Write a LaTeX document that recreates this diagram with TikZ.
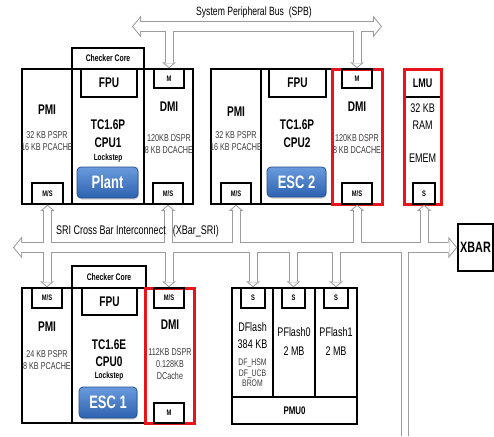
\documentclass[tikz,border=0pt]{standalone}
\usepackage{fontspec}
\setmainfont{Liberation Sans}[FakeStretch=0.72]
\usepackage{tikz}
\usetikzlibrary{arrows.meta,shadows}
\definecolor{pipe}{HTML}{9C9C9C}
\definecolor{hired}{HTML}{E8141B}
\definecolor{btntop}{HTML}{6A9BDD}
\definecolor{btnbot}{HTML}{2D62B0}
\definecolor{btnedge}{HTML}{24508F}
\definecolor{memtxt}{HTML}{3A3A3A}

\begin{document}
\begin{tikzpicture}[
    x=1pt, y=-1pt,
    every node/.style={font=\fontsize{10}{12}\selectfont, inner sep=0pt, align=center},
    blk/.style={draw, line width=1.5pt},
    redblk/.style={draw=hired, line width=3pt},
    port/.style={blk, font=\bfseries\fontsize{8}{9}\selectfont},
    head/.style={font=\bfseries\fontsize{14}{16}\selectfont},
    mem/.style={text=memtxt, font=\fontsize{10}{12}\selectfont},
    big/.style={font=\fontsize{12.5}{17}\selectfont},
    btn/.style={draw=btnedge, line width=0.8pt, rounded corners=4pt,
      top color=btntop, bottom color=btnbot, text=white,
      font=\bfseries\fontsize{18}{18}\selectfont,
      drop shadow={opacity=0.35, shadow xshift=0.8pt, shadow yshift=-1.5pt}},
    bus/.style={draw=\pcol, line width=\busw,
      {Triangle[length=\busl, width=\bust, line width=0pt]}-{Triangle[length=\busl, width=\bust, line width=0pt]},
      shorten <=\shr, shorten >=\shr},
    branch/.style={draw=\pcol, line width=\brw,
      -{Triangle[length=\brl, width=\brt, line width=0pt]}, shorten >=\shr},
    drop/.style={draw=\pcol, line width=\dropw}
  ]
    \useasboundingbox (0,0) rectangle (494,436);

    % CPU1 (top left)
    \node[blk, minimum width=72, minimum height=21, font=\bfseries\fontsize{9.5}{10}\selectfont] (chk1) at (108,58.5) {Checker Core};
    \node[blk, minimum width=50, minimum height=135] (pmi1) at (47,136.5) {};
    \node[blk, minimum width=72, minimum height=135] (core1) at (108,136.5) {};
    \node[blk, minimum width=49, minimum height=135] (dmi1) at (168.5,136.5) {};
    \node[blk, head, minimum width=56, minimum height=28] (fpu1) at (109,83) {FPU};
    \node[port, minimum width=30, minimum height=19] (m1) at (169,78.5) {M};
    \node[port, minimum width=31, minimum height=21] (msp1) at (47.5,193.5) {M/S};
    \node[port, minimum width=30, minimum height=21] (msd1) at (168,193.5) {M/S};
    \node[head] (pmi1t) at (47,110) {PMI};
    \node[mem] (pmi1m) at (47,141) {32 KB PSPR\\16 KB PCACHE};
    \node[head] (tc1) at (108,125) {TC1.6P};
    \node[head] (cpu1t) at (108,143) {CPU1};
    \node[font=\bfseries\fontsize{9}{10}\selectfont] (lock1) at (108,158) {Lockstep};
    \node[head] (dmi1t) at (169,107) {DMI};
    \node[mem] (dmi1m) at (169,144) {120KB DSPR\\8 KB DCACHE};
    \node[btn, minimum width=61, minimum height=31] (plant) at (107.5,182.5) {Plant};

    % CPU2 (top middle)
    \node[blk, minimum width=50, minimum height=135] (pmi2) at (236,136.5) {};
    \node[blk, minimum width=71, minimum height=135] (core2) at (296.5,136.5) {};
    \node[blk, head, minimum width=57, minimum height=28] (fpu2) at (297.5,83) {FPU};
    \node[port, minimum width=30, minimum height=21] (msp2) at (236,193.5) {M/S};
    \node[head] (pmi2t) at (236,112) {PMI};
    \node[mem] (pmi2m) at (236,141) {32 KB PSPR\\16 KB PCACHE};
    \node[head] (tc2) at (297,125) {TC1.6P};
    \node[head] (cpu2t) at (297,143) {CPU2};
    \node[redblk, minimum width=50, minimum height=135] (dmi2) at (357,136.5) {};
    \node[port, minimum width=30, minimum height=19] (m2) at (357,78.5) {M};
    \node[port, minimum width=30, minimum height=21] (msd2) at (357,193.5) {M/S};
    \node[head] (dmi2t) at (357,107) {DMI};
    \node[mem] (dmi2m) at (357,144) {120KB DSPR\\8 KB DCACHE};
    \node[btn, minimum width=59, minimum height=30] (esc2) at (296.5,182) {ESC 2};

    % LMU
    \node[blk, minimum width=37, minimum height=28, font=\bfseries\fontsize{12.5}{14}\selectfont] (lmuhd) at (422.5,83) {LMU};
    \node[redblk, minimum width=37, minimum height=135] (lmu) at (422.5,136.5) {};
    \node[port, minimum width=22, minimum height=21] (lmus) at (424,193.5) {S};
    \node[big] (ramt) at (422.5,116.5) {32 KB\\RAM};
    \node[big] (ememt) at (422.5,158) {EMEM};

    % CPU0 (bottom left)
    \node[blk, minimum width=74, minimum height=22, font=\bfseries\fontsize{9.5}{10}\selectfont] (chk0) at (109,277) {Checker Core};
    \node[blk, minimum width=50, minimum height=135] (pmi0) at (47,355.5) {};
    \node[blk, minimum width=73, minimum height=135] (core0) at (108.5,355.5) {};
    \node[blk, head, minimum width=55, minimum height=27] (fpu0) at (109.5,301.5) {FPU};
    \node[port, minimum width=30, minimum height=20] (msp0) at (47,298) {M/S};
    \node[head] (pmi0t) at (47,327) {PMI};
    \node[mem] (pmi0m) at (47,360) {24 KB PSPR\\8 KB PCACHE};
    \node[head] (tc0) at (109,345) {TC1.6E};
    \node[head] (cpu0t) at (109,362) {CPU0};
    \node[font=\bfseries\fontsize{9}{10}\selectfont] (lock0) at (109,376) {Lockstep};
    \node[redblk, minimum width=49, minimum height=135] (dmi0) at (169.5,355.5) {};
    \node[port, minimum width=30, minimum height=20] (msd0) at (169,298) {M/S};
    \node[port, minimum width=30, minimum height=20] (m0) at (169,413) {M};
    \node[head] (dmi0t) at (170,325) {DMI};
    \node[mem] (dmi0m) at (170,364) {112KB DSPR\\0.128KB\\DCache};
    \node[btn, minimum width=58, minimum height=31] (esc1) at (108,402.5) {ESC 1};

    % flash and PMU0
    \node[blk, minimum width=41, minimum height=109] (dfl) at (252.5,342.5) {};
    \node[blk, minimum width=42, minimum height=109] (pf0) at (294,342.5) {};
    \node[blk, minimum width=42, minimum height=109] (pf1) at (336,342.5) {};
    \node[blk, minimum width=125, minimum height=27, font=\bfseries\fontsize{11}{12}\selectfont] (pmu) at (294.5,410.5) {PMU0};
    \node[port, minimum width=24, minimum height=20] (sdf) at (253,298) {S};
    \node[port, minimum width=23, minimum height=20] (spf0) at (293.5,298) {S};
    \node[port, minimum width=24, minimum height=20] (spf1) at (336,298) {S};
    \node[big] (dflt) at (252.5,335.5) {DFlash\\384 KB};
    \node[mem, font=\fontsize{9.5}{10.5}\selectfont] (dfxt) at (252.5,373) {DF\_HSM\\DF\_UCB\\BROM};
    \node[big, font=\fontsize{12.5}{19}\selectfont] (pf0t) at (294,341.5) {PFlash0\\2 MB};
    \node[big, font=\fontsize{12.5}{19}\selectfont] (pf1t) at (336,341.5) {PFlash1\\2 MB};

    \node[blk, minimum width=35, minimum height=47, font=\bfseries\fontsize{15}{16}\selectfont] (xbar) at (475.5,247.5) {XBAR};

    % buses
    \coordinate (spbL) at (132,26.5);
    \coordinate (spbR) at (382,26.5);
    \coordinate (sriL) at (13,247.5);
    \coordinate (sriD) at (405,436);
    \foreach \pcol/\busw/\brw/\dropw/\busl/\bust/\brl/\brt/\shr in
      {pipe/11pt/9pt/8pt/9pt/22pt/6pt/14pt/0pt,
       white/9pt/7pt/6pt/6.7pt/16.4pt/3.7pt/8.6pt/1.3pt}
    {
      \draw[bus] (spbL) -- (spbR);
      \draw[bus] (sriL) -- (xbar.west);
      \draw[branch] (m1.north |- spbL) -- (m1.north);
      \draw[branch] (m2.north |- spbL) -- (m2.north);
      \foreach \n in {msp1,msd1,msp2,msd2,lmus}
        \draw[branch] (\n.south |- sriL) -- (\n.south);
      \foreach \n in {msp0,msd0,sdf,spf0,spf1}
        \draw[branch] (\n.north |- sriL) -- (\n.north);
      \draw[drop] (sriD |- sriL) -- (sriD);
    }
    \node[font=\fontsize{12}{14}\selectfont] (spbt) at (254,12) {System Peripheral Bus\ \ (SPB)};
    \node[font=\fontsize{12.5}{14}\selectfont] (srit) at (137.5,231) {SRI Cross Bar Interconnect\hspace{7pt}(XBar\_SRI)};
  \end{tikzpicture}
\end{document}
